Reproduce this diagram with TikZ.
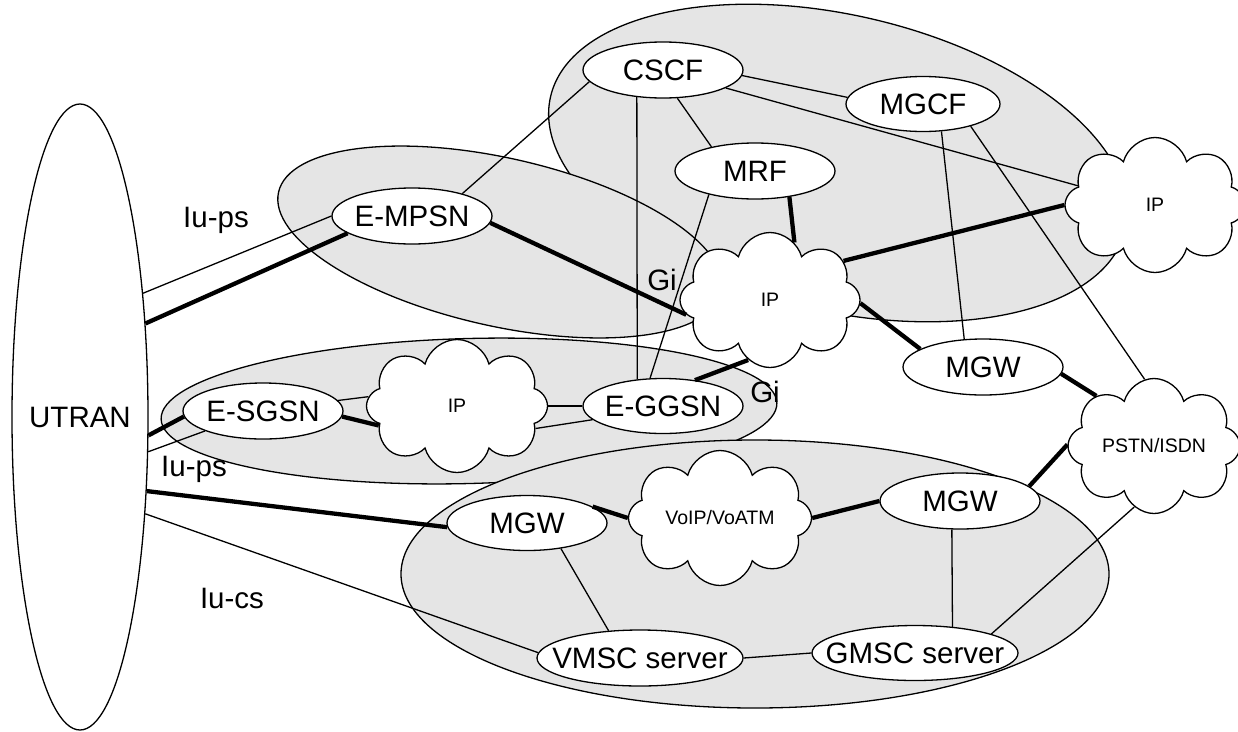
\documentclass[tikz,border=0pt]{standalone}
\usepackage{fontspec}
\setmainfont{Liberation Sans}
\usetikzlibrary{shapes.geometric,shapes.symbols}
\newcommand{\ctext}[1]{\makebox[0pt]{#1}}

\begin{document}
\begin{tikzpicture}[x=1pt,y=-1pt,
    area/.style={draw, ellipse, fill=gray!20, line width=1.3pt},
    main/.style={draw, ellipse, fill=white, line width=1.3pt, inner sep=0pt, minimum width=160pt, minimum height=56pt, font=\fontsize{29.5}{33}\selectfont},
    wide/.style={main, minimum width=206pt},
    net/.style={draw, cloud, cloud puffs=8, cloud puff arc=150, shape border rotate=22.5, cloud ignores aspect, fill=white, line width=1.3pt, inner sep=0pt, minimum width=180pt, minimum height=135pt, font=\fontsize{19.5}{22}\selectfont},
    tag/.style={anchor=base, font=\fontsize{29.5}{33}\selectfont},
    link/.style={line width=1.3pt},
    trunk/.style={line width=4.3pt}]
            \useasboundingbox (0,0) rectangle (1238,731);

            % grey domains
            \node[area, minimum width=590pt, minimum height=296pt, rotate=-13] (imsarea) at (838,163) {};
            \node[area, minimum width=454pt, minimum height=168pt, rotate=-12.7] (mpsnarea) at (500,242) {};
            \node[area, minimum width=616pt, minimum height=145pt, rotate=1.5] (sgsnarea) at (469,411) {};
            \node[area, minimum width=708pt, minimum height=268pt] (csarea) at (755,574) {};

            \node[main, fill=none, minimum width=136pt, minimum height=626pt] (utran) at (80,417) {\ctext{UTRAN}};

            \node[main] (cscf) at (663,70) {\ctext{CSCF}};
            \node[main, minimum width=154pt, minimum height=55pt] (mgcf) at (923,104) {\ctext{MGCF}};
            \node[main] (mrf) at (755,171) {\ctext{MRF}};
            \node[main] (empsn) at (412,216) {\ctext{E-MPSN}};
            \node[main] (esgsn) at (263,411) {\ctext{E-SGSN}};
            \node[main, minimum height=55pt] (eggsn) at (663,406) {\ctext{E-GGSN}};
            \node[main] (mgwt) at (983,367) {\ctext{MGW}};
            \node[main, minimum height=55pt] (mgwb) at (527,523) {\ctext{MGW}};
            \node[main] (mgwr) at (960,501) {\ctext{MGW}};
            \node[wide] (vmsc) at (640,658) {\ctext{VMSC server}};
            \node[wide, minimum height=55pt] (gmsc) at (915,653) {\ctext{GMSC server}};

            \node[net] (ipc) at (770,300) {\ctext{IP}};
            \node[net] (ipr) at (1155,205) {\ctext{IP}};
            \node[net, minimum width=181pt, minimum height=133pt] (ipl) at (457,406) {\ctext{IP}};
            \node[net, minimum width=183pt] (voip) at (720,518) {\ctext{VoIP/VoATM}};
            \node[net, minimum width=172pt] (pstn) at (1154,446) {\ctext{PSTN/ISDN}};

            \node[tag] (iups1) at (216,227) {Iu-ps};
            \node[tag] (iups2) at (194,476) {Iu-ps};
            \node[tag] (iucs) at (232,608) {Iu-cs};
            \node[tag] (gi1) at (662,290) {Gi};
            \node[tag] (gi2) at (765,402) {Gi};

            \path[link] (utran.63) edge (empsn.west)
                        (empsn.24) edge (cscf.189)
                        (cscf.-4) edge (mgcf.175)
                        (cscf.-16) edge (ipr.166)
                        (cscf.-63) edge (mrf.151)
                        (cscf.226) edge (eggsn.134)
                        (mrf.207) edge (eggsn.115)
                        (mgcf.-56) edge (mgwt.124)
                        (mgcf.-25) edge (pstn.98)
                        (esgsn.8) edge (ipl.174)
                        (eggsn.west) edge (ipl.east)
                        (eggsn.191) edge (ipl.-16)
                        (utran.-27) edge (esgsn.199)
                        (utran.-56) edge (vmsc.177)
                        (mgwb.-37) edge (vmsc.139)
                        (vmsc.east) edge (gmsc.west)
                        (mgwr.-106) edge (gmsc.35)
                        (gmsc.14) edge (pstn.252);

            \path[trunk] (utran.55) edge (empsn.195)
                         (empsn.-5) edge (ipc.190)
                         (mrf.-37) edge (ipc.67)
                         (ipc.28) edge (ipr.west)
                         (ipc.-2) edge (mgwt.164)
                         (mgwt.-5) edge (pstn.139)
                         (eggsn.39) edge (ipc.250)
                         (esgsn.-4) edge (ipl.194)
                         (utran.-15) edge (esgsn.184)
                         (utran.-48) edge (mgwb.183)
                         (mgwb.14) edge (voip.west)
                         (voip.east) edge (mgwr.west)
                         (mgwr.12) edge (pstn.179);
          \end{tikzpicture}
\end{document}
